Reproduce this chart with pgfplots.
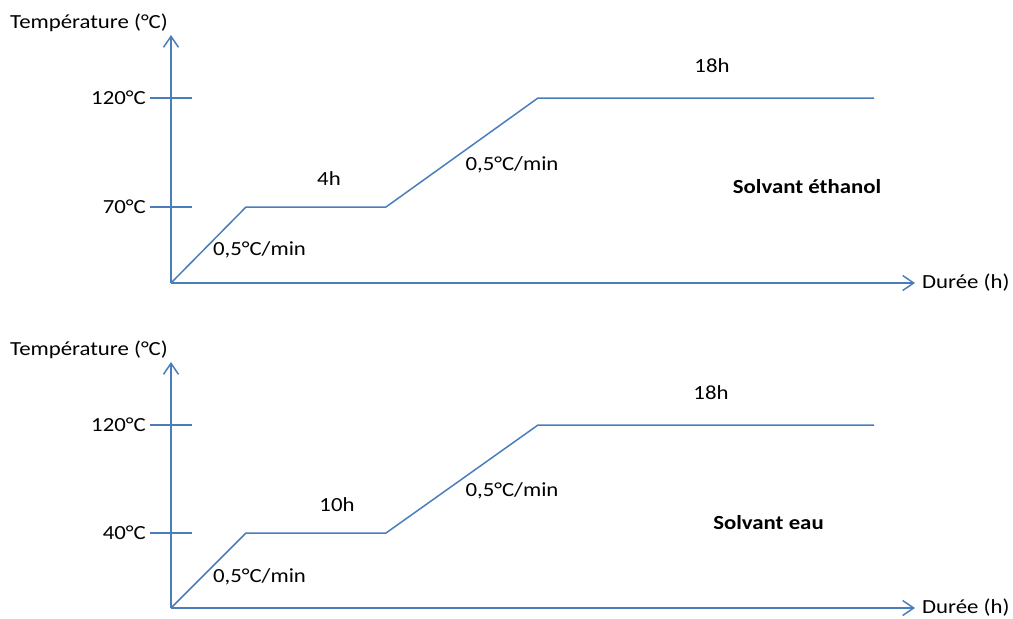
\documentclass[border=0pt]{standalone}
\usepackage{fontspec}
\setmainfont[FakeStretch=1.14]{Carlito}
\usepackage{pgfplots}
\pgfplotsset{compat=1.18}
\usetikzlibrary{arrows.meta}
\definecolor{lineblue}{RGB}{74,126,187}
\newcommand{\fs}{\fontsize{20}{24}\selectfont}

% schematic profiles (1 unit = 1 pt of drawing)
\pgfplotstableread{
x y
0 0
75 76
215 76
367 185
703 185
}\ethanol
\pgfplotstableread{
x y
0 0
75 75
215 75
367 183
703 183
}\eau

\pgfplotsset{
  schema/.style={
    scale only axis, width=744pt,
    xmin=0, xmax=744, ymin=0,
    enlargelimits=false,
    clip=false,
    font=\fs,
    axis lines=left,
    axis line style={lineblue, line width=1.5pt, -{Straight Barb[length=11pt,width=15pt,line width=1.5pt]}},
    xtick=\empty,
    tick align=center,
    major tick length=42pt,
    ytick style={lineblue, line width=1.5pt},
    yticklabel style={anchor=east, inner sep=0pt, xshift=-4pt, font=\fs},
    every axis y label/.style={at={(axis description cs:0,1)}, anchor=south east, inner sep=3pt, font=\fs},
    every axis x label/.style={at={(axis description cs:1,0)}, anchor=base west, inner sep=0pt, xshift=7pt, yshift=-5pt, font=\fs},
    ylabel={Température (°C)},
    xlabel={Durée (h)},
  }
}

\begin{document}
\begin{tikzpicture}[font=\fs]
\useasboundingbox (0,0) rectangle (1013pt,-619pt);

\begin{axis}[schema, at={(171pt,-283pt)}, anchor=south west,
  height=248pt, ymax=248,
  ytick={76,185}, yticklabels={\mbox{70°C},\mbox{120°C}}]
  \addplot[lineblue, line width=1.5pt, mark=none] table[x=x,y=y] {\ethanol};
  \node at (axis cs:88.5,33) {0,5°C/min};
  \node at (axis cs:158,104) {4h};
  \node at (axis cs:341,118) {0,5°C/min};
  \node at (axis cs:541,217) {18h};
  \node at (axis cs:636,96) {\textbf{Solvant éthanol}};
\end{axis}

\begin{axis}[schema, at={(171pt,-608pt)}, anchor=south west,
  height=246pt, ymax=246,
  ytick={75,183}, yticklabels={\mbox{40°C},\mbox{120°C}}]
  \addplot[lineblue, line width=1.5pt, mark=none] table[x=x,y=y] {\eau};
  \node at (axis cs:88.5,31) {0,5°C/min};
  \node at (axis cs:166,103) {10h};
  \node at (axis cs:341,117) {0,5°C/min};
  \node at (axis cs:540,215) {18h};
  \node at (axis cs:597.5,85) {\textbf{Solvant eau}};
\end{axis}
\end{tikzpicture}
\end{document}
